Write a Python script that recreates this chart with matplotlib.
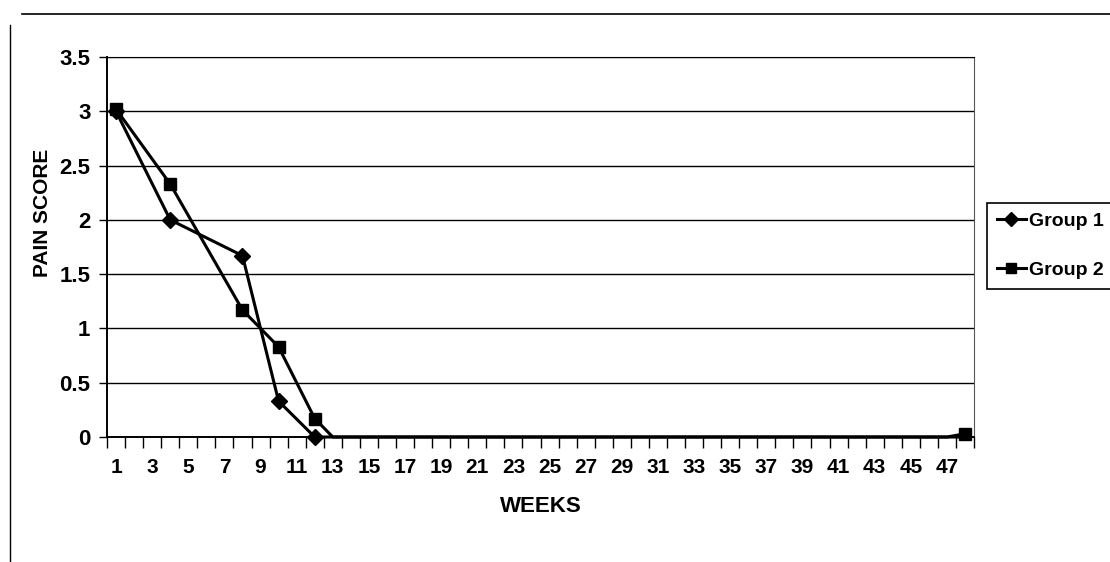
import numpy as np
import matplotlib.pyplot as plt
from matplotlib.lines import Line2D

# weeks and scores
weeks_g1 = [1, 4, 8, 10, 12] + list(range(13, 49))
score_g1 = [3.0, 2.0, 1.67, 0.33, 0.0] + [0.0] * 36
weeks_g2 = [1, 4, 8, 10, 12] + list(range(13, 49))
score_g2 = [3.02, 2.33, 1.17, 0.83, 0.17] + [0.0] * 35 + [0.03]
y_ticks = [0, 0.5, 1, 1.5, 2, 2.5, 3, 3.5]
y_labels = ["0", "0.5", "1", "1.5", "2", "2.5", "3", "3.5"]
x_labels = [str(w) for w in range(1, 48, 2)]

fam = ['Liberation Sans Narrow', 'Liberation Sans', 'DejaVu Sans']
plt.rcParams['font.family'] = fam
plt.rcParams['font.weight'] = 'bold'

fig = plt.figure(figsize=(11.1, 5.62), dpi=100)
ax = fig.add_axes([0.0964, 0.2224, 0.7811, 0.6762])

# markers only where the points stand out (the zero run is a thick band)
ax.plot(weeks_g1, score_g1, color='black', lw=2.2, marker='D', ms=8,
        mfc='black', mec='black', label='Group 1', clip_on=False,
        markevery=[0, 1, 2, 3, 4])
ax.plot(weeks_g2, score_g2, color='black', lw=2.2, marker='s', ms=8,
        mfc='black', mec='black', label='Group 2', clip_on=False,
        markevery=[0, 1, 2, 3, 4, len(weeks_g2) - 1])

ax.set_xlim(0.5, 48.5)
ax.set_ylim(0, 3.5)
ax.set_yticks(y_ticks)
ax.set_yticklabels(y_labels, fontsize=16, fontweight='bold')
ax.set_xticks(range(1, 48, 2))
ax.set_xticklabels(x_labels, fontsize=15, fontweight='bold')
ax.set_xticks(np.arange(0.5, 49, 1), minor=True)
ax.tick_params(axis='x', which='major', length=0, pad=15)
ax.tick_params(axis='x', which='minor', length=8, width=1, direction='out', color='black')
ax.tick_params(axis='y', length=6, width=1, direction='out', pad=6)

ax.yaxis.grid(True, color='black', lw=1)
ax.set_axisbelow(True)
for s in ['left', 'bottom']:
    ax.spines[s].set_linewidth(1.4)
    ax.spines[s].set_color('black')
ax.spines['right'].set_color('#555555')
ax.spines['top'].set_color('black')

ax.set_xlabel('WEEKS', fontsize=16, fontweight='bold', labelpad=14)
ax.set_ylabel('PAIN SCORE', fontsize=15, fontweight='bold')
ax.yaxis.set_label_coords(-0.063, 0.59)

# outer chart frame
fig.add_artist(Line2D([0.02, 1.0], [0.975, 0.975], color='black', lw=1.2, transform=fig.transFigure))
fig.add_artist(Line2D([0.009, 0.009], [0.0, 0.955], color='black', lw=1, transform=fig.transFigure))

leg = fig.legend(loc='upper left', bbox_to_anchor=(0.889, 0.639), fontsize=14,
                 handlelength=1.5, handletextpad=0.15, labelspacing=1.6,
                 fancybox=False, edgecolor='black', framealpha=1, borderpad=0.5,
                 borderaxespad=0)
leg.get_frame().set_linewidth(1.2)
for h in leg.legend_handles:
    h.set_markersize(7)

fig.savefig('out.png', dpi=100)
